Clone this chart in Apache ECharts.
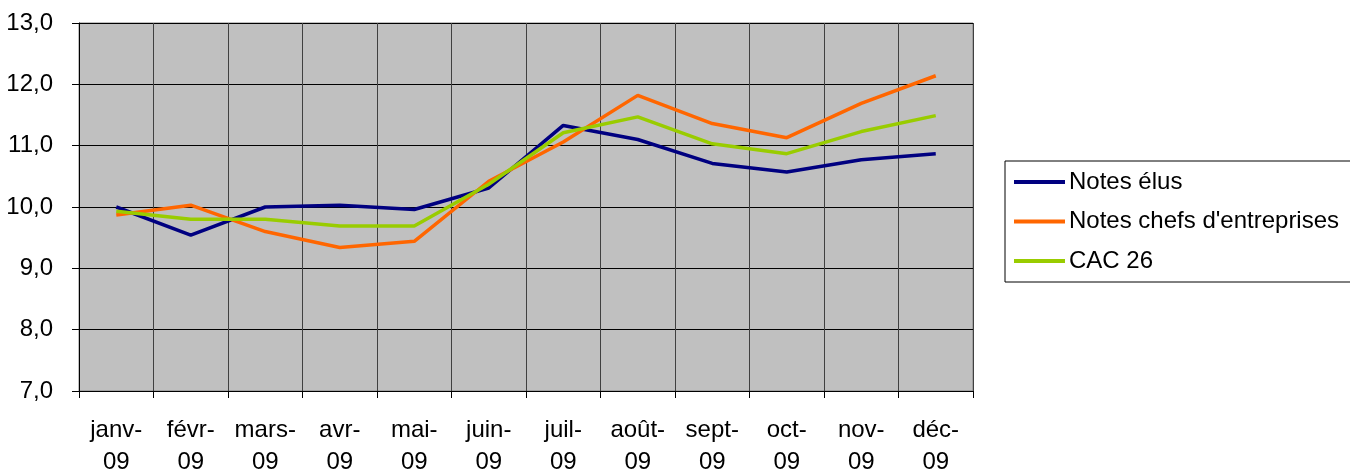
<!DOCTYPE html>
<html><head><meta charset="utf-8">
<script src="https://cdn.jsdelivr.net/npm/echarts@6/dist/echarts.min.js"></script>
<style>html,body{margin:0;padding:0;background:#fff}#c{width:1350px;height:473px}</style>
</head><body><div id="c"></div>
<script>
const categories = ['janv-09','févr-09','mars-09','avr-09','mai-09','juin-09','juil-09','août-09','sept-09','oct-09','nov-09','déc-09'];
const notesElus = [10.00, 9.54, 10.00, 10.03, 9.96, 10.31, 11.33, 11.10, 10.71, 10.57, 10.77, 10.87];
const notesChefs = [9.87, 10.03, 9.60, 9.34, 9.44, 10.42, 11.06, 11.82, 11.36, 11.13, 11.69, 12.14];
const cac26 = [9.93, 9.80, 9.80, 9.69, 9.69, 10.37, 11.21, 11.47, 11.03, 10.87, 11.23, 11.49];
const seriesNames = ['Notes élus', "Notes chefs d'entreprises", 'CAC 26'];

const FONT = 'Liberation Sans, Arial, sans-serif';
const chart = echarts.init(document.getElementById('c'));
chart.setOption({
  animation: false,
  backgroundColor: '#ffffff',
  textStyle: {fontFamily: FONT, color: '#000'},
  grid: {left: 79, right: 377, top: 23, bottom: 82, containLabel: false, outerBoundsMode: 'none',
    show: true, backgroundColor: '#c0c0c0', borderColor: '#808080', borderWidth: 1},
  legend: {
    orient: 'vertical', left: 1005, top: 161,
    data: seriesNames,
    icon: 'rect',
    itemWidth: 51, itemHeight: 4, itemGap: 15.5,
    padding: [9, 40, 9, 9],
    borderColor: '#000', borderWidth: 1, backgroundColor: '#fff',
    textStyle: {fontFamily: FONT, fontSize: 24, lineHeight: 24, color: '#000', padding: [0, 0, 0, -1]}
  },
  xAxis: {
    type: 'category', data: categories, boundaryGap: true,
    axisLine: {lineStyle: {color: '#000', width: 1}},
    axisTick: {show: true, length: 7, lineStyle: {color: '#000'}},
    splitLine: {show: true, lineStyle: {color: '#404040', width: 1}},
    axisLabel: {
      fontFamily: FONT, fontSize: 24, color: '#000', lineHeight: 32, margin: 23, interval: 0,
      formatter: v => v.replace('-', '-\n')
    }
  },
  yAxis: {
    type: 'value', min: 7, max: 13, interval: 1,
    axisLine: {show: true, lineStyle: {color: '#000'}},
    axisTick: {show: true, length: 7, lineStyle: {color: '#000'}},
    splitLine: {show: true, lineStyle: {color: '#000', width: 1}},
    axisLabel: {fontFamily: FONT, fontSize: 24, color: '#000', margin: 26,
      formatter: v => v.toFixed(1).replace('.', ',')}
  },
  series: [
    {name: seriesNames[0], type: 'line', data: notesElus, symbol: 'none', lineStyle: {color: '#000080', width: 3.5}, itemStyle: {color: '#000080'}},
    {name: seriesNames[1], type: 'line', data: notesChefs, symbol: 'none', lineStyle: {color: '#ff6600', width: 3.5}, itemStyle: {color: '#ff6600'}},
    {name: seriesNames[2], type: 'line', data: cac26, symbol: 'none', lineStyle: {color: '#99cc00', width: 3.5}, itemStyle: {color: '#99cc00'}}
  ]
});
</script></body></html>
